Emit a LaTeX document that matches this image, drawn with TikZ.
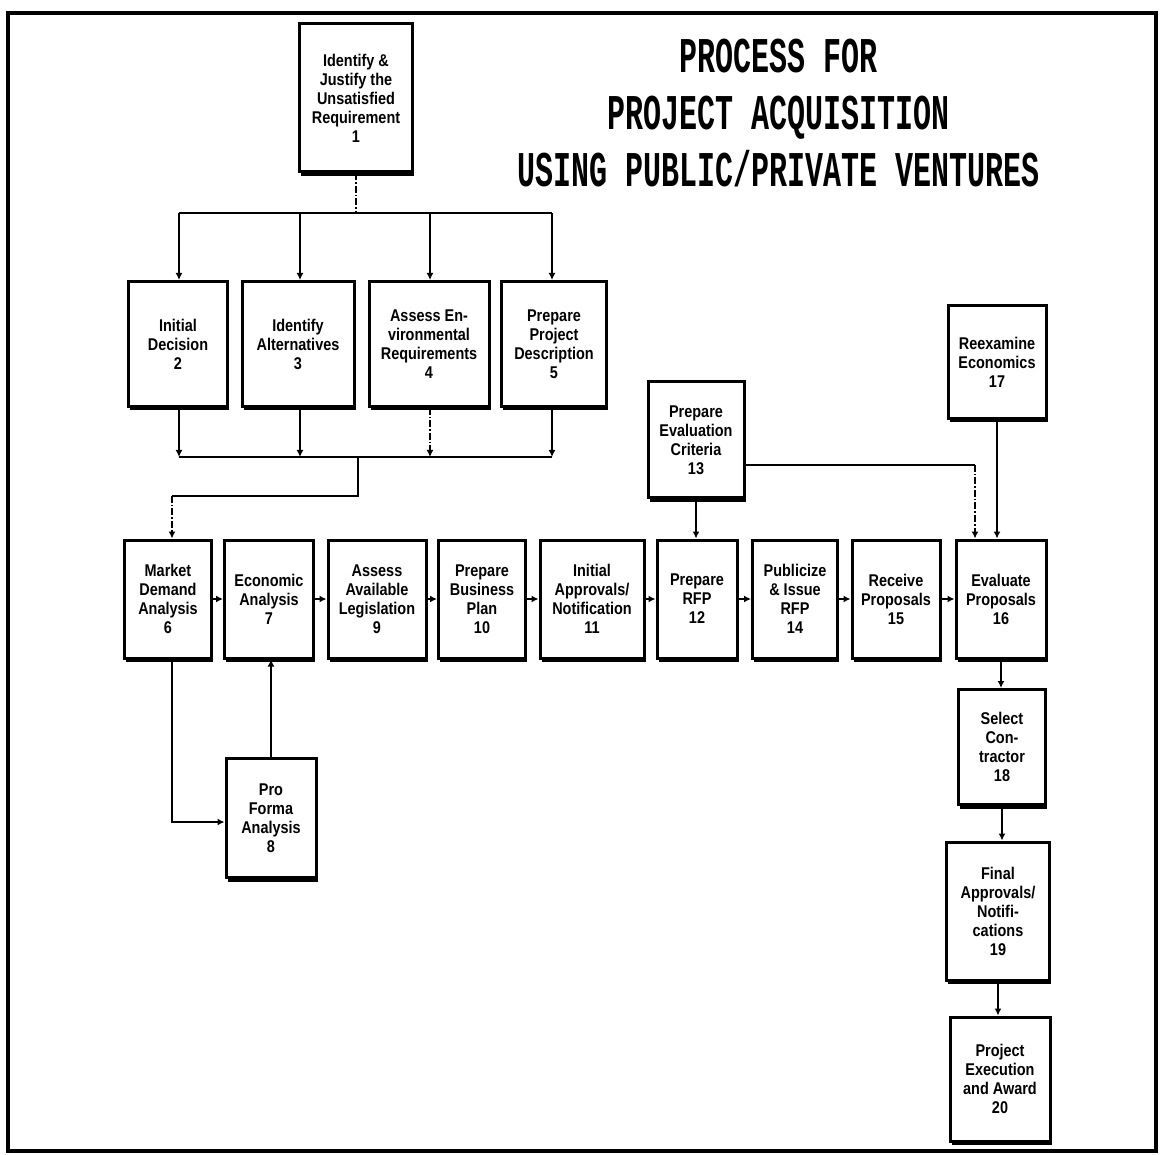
\documentclass[tikz,border=0pt]{standalone}
\usepackage{fontspec}
\usetikzlibrary{arrows.meta,shadows,calc}
\newfontfamily\boxfont[FakeStretch=0.85]{Liberation Sans}
\newfontfamily\titlefont[FakeStretch=0.6]{Liberation Mono}
\begin{document}
\begin{tikzpicture}[x=1pt,y=-1pt,
  box/.style={draw, fill=white, line width=3pt, align=center, inner sep=2pt,
    font=\boxfont\bfseries\fontsize{17}{19}\selectfont,
    drop shadow={shadow xshift=1.5pt, shadow yshift=-4pt, opacity=1, fill=black}},
  conn/.style={line width=2.6pt},
  arr/.style={conn, -{Latex[length=7pt,width=7pt]}},
  dsh/.style={dash pattern=on 7pt off 2pt on 1.5pt off 2pt}]
\useasboundingbox (0,0) rectangle (1160,1155);
\draw[line width=3.5pt] (8,13) rectangle (1156,1151);

% title
\node[font=\titlefont\bfseries\fontsize{50}{57}\selectfont, align=center] (title) at (779,113)
  {PROCESS FOR\\PROJECT ACQUISITION\\USING PUBLIC/PRIVATE VENTURES};

% boxes
\node[box, minimum width=113, minimum height=148] (b1) at (356,98) {Identify \&\\Justify the\\Unsatisfied\\Requirement\\1};

\node[box, minimum width=99, minimum height=125] (b2) at (178,344) {Initial\\Decision\\2};
\node[box, minimum width=112, minimum height=125] (b3) at (298,344) {Identify\\Alternatives\\3};
\node[box, minimum width=120, minimum height=125] (b4) at (429,344) {Assess En-\\vironmental\\Requirements\\4};
\node[box, minimum width=105, minimum height=125] (b5) at (554,344) {Prepare\\Project\\Description\\5};

\node[box, minimum width=87, minimum height=118] (b6) at (168,599) {Market\\Demand\\Analysis\\6};
\node[box, minimum width=89, minimum height=118] (b7) at (269,599) {Economic\\Analysis\\7};
\node[box, minimum width=98, minimum height=118] (b9) at (377,599) {Assess\\Available\\Legislation\\9};
\node[box, minimum width=87, minimum height=118] (b10) at (482,599) {Prepare\\Business\\Plan\\10};
\node[box, minimum width=104, minimum height=118] (b11) at (592,599) {Initial\\Approvals/\\Notification\\11};
\node[box, minimum width=80, minimum height=118] (b12) at (697,599) {Prepare\\RFP\\12};
\node[box, minimum width=85, minimum height=118] (b14) at (795,599) {Publicize\\\& Issue\\RFP\\14};
\node[box, minimum width=88, minimum height=118] (b15) at (896,599) {Receive\\Proposals\\15};
\node[box, minimum width=90, minimum height=118] (b16) at (1001,599) {Evaluate\\Proposals\\16};

\node[box, minimum width=96, minimum height=116] (b13) at (696,440) {Prepare\\Evaluation\\Criteria\\13};
\node[box, minimum width=98, minimum height=113] (b17) at (997,362) {Reexamine\\Economics\\17};
\node[box, minimum width=87, minimum height=115] (b18) at (1002,747) {Select\\Con-\\tractor\\18};
\node[box, minimum width=103, minimum height=138] (b19) at (998,911) {Final\\Approvals/\\Notifi-\\cations\\19};
\node[box, minimum width=100, minimum height=124] (b20) at (1000,1079) {Project\\Execution\\and Award\\20};
\node[box, minimum width=90, minimum height=119] (b8) at (271,818) {Pro\\Forma\\Analysis\\8};

% top bus
\coordinate (t1) at (179,213);
\coordinate (t2) at (300,213);
\coordinate (t3) at (430,213);
\coordinate (t4) at (552,213);
\draw[conn,dsh] (b1.south) -- (b1.south |- t1);
\draw[conn] (t1) -- (t4);
\draw[arr] (t1) -- (t1 |- b2.north);
\draw[arr] (t2) -- (t2 |- b3.north);
\draw[arr] (t3) -- (t3 |- b4.north);
\draw[arr] (t4) -- (t4 |- b5.north);

% lower bus
\coordinate (u1) at (179,457);
\coordinate (u2) at (300,457);
\coordinate (u3) at (430,457);
\coordinate (u4) at (552,457);
\draw[arr] (u1 |- b2.south) -- (u1);
\draw[arr] (u2 |- b3.south) -- (u2);
\draw[arr,dsh] (u3 |- b4.south) -- (u3);
\draw[arr] (u4 |- b5.south) -- (u4);
\draw[conn] (u1) -- (u4);
\coordinate (m1) at (358,457);
\coordinate (m2) at (358,496);
\coordinate (m3) at (172,496);
\draw[conn] (m1) -- (m2) -- (m3);
\draw[arr,dsh] (m3) -- (m3 |- b6.north);

% main row
\draw[arr] (b6.east) -- (b7.west);
\draw[arr] (b7.east) -- (b9.west);
\draw[arr] (b9.east) -- (b10.west);
\draw[arr] (b10.east) -- (b11.west);
\draw[arr] (b11.east) -- (b12.west);
\draw[arr] (b12.east) -- (b14.west);
\draw[arr] (b14.east) -- (b15.west);
\draw[arr] (b15.east) -- (b16.west);

% evaluation criteria
\draw[arr] (b13.south) -- (b13.south |- b12.north);
\coordinate (k) at (975,465);
\draw[conn] (b13.east |- k) -- (k);
\draw[arr,dsh] (k) -- (k |- b16.north);

% reexamine
\draw[arr] (b17.south) -- (b17.south |- b16.north);

% right column
\draw[arr] (b16.south) -- (b16.south |- b18.north);
\draw[arr] (b18.south) -- (b18.south |- b19.north);
\draw[arr] (b19.south) -- (b19.south |- b20.north);

% pro forma
\coordinate (p) at (172,822);
\draw[arr] (p |- b6.south) -- (p) -- (p -| b8.west);
\draw[arr] (b8.north) -- (b8.north |- b7.south);
\end{tikzpicture}
\end{document}
